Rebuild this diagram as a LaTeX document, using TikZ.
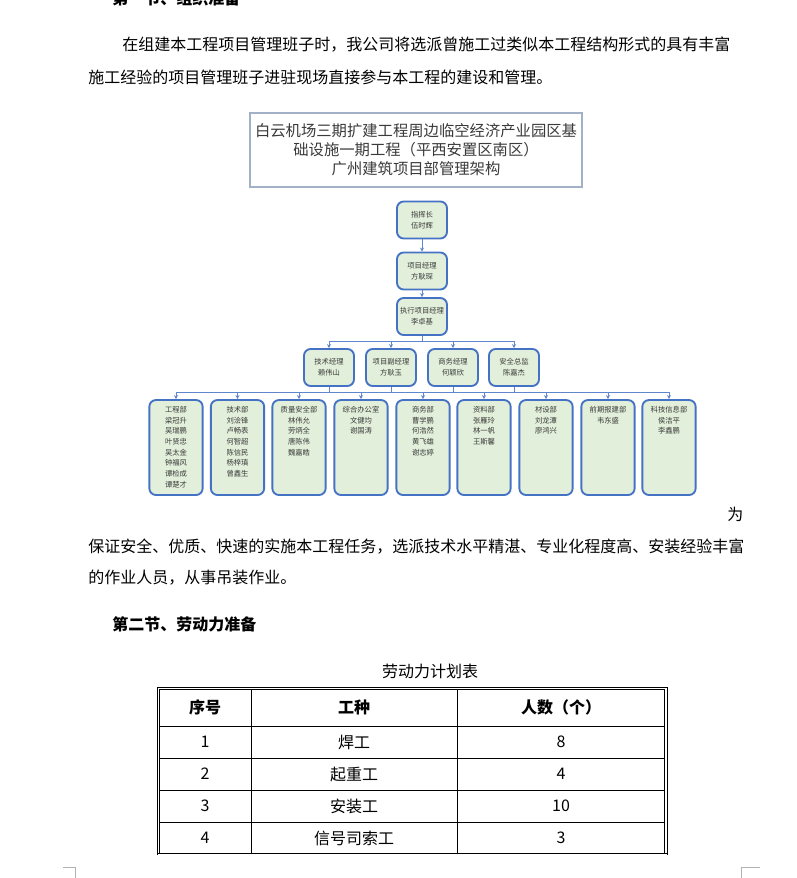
\documentclass[tikz,border=0pt]{standalone}
\usepackage{fontspec}
\setmainfont{Noto Sans CJK SC}
\usepackage{xcolor}
\usepackage{tikz}
\usetikzlibrary{shapes,arrows,arrows.meta,positioning,calc}

\definecolor{boxblue}{HTML}{4472C4}
\definecolor{boxgreen}{HTML}{E2EFDA}
\definecolor{titlegray}{HTML}{A3B1C6}
\definecolor{textgray}{HTML}{3A3A3A}

\newcommand{\deptnames}[1]{\parbox[c][62pt][t]{40pt}{\centering #1}}

\begin{document}
\begin{tikzpicture}[x=0.75pt, y=-0.75pt]
    \tikzstyle{orgbox} = [draw=boxblue, line width=1.4pt, fill=boxgreen, rectangle, rounded corners=5pt, minimum width=37.5pt, minimum height=27.75pt, inner sep=0pt, align=center, text=textgray, font=\fontsize{5.5}{8.2}\selectfont]
    \tikzstyle{deptbox} = [orgbox, minimum height=71.25pt, font=\fontsize{5.5}{8}\selectfont]
    \tikzstyle{titlebox} = [draw=titlegray, line width=0.8pt, rectangle, minimum width=249pt, minimum height=55.5pt, inner sep=0pt, align=center, text=textgray, font=\fontsize{11.5}{14.25}\selectfont]
    \tikzstyle{link} = [draw=boxblue!85, line width=0.6pt]
    \tikzstyle{arrowlink} = [link, -{Stealth[length=3pt,width=3pt]}]
    \tikzstyle{body} = [anchor=west, inner sep=0pt, font=\fontsize{12}{16}\selectfont]
    \tikzstyle{cell} = [inner sep=0pt, font=\fontsize{12}{16}\selectfont]

    \useasboundingbox (0,0) rectangle (796,878);
    \fill[white] (0,0) rectangle (796,878);

    % Text above the chart
    \node [body, font=\fontsize{12}{16}\selectfont\bfseries] (sec1) at (112,-2) {第一节、组织准备};
    \node [body] (para1a) at (122,45) {在组建本工程项目管理班子时，我公司将选派曾施工过类似本工程结构形式的具有丰富};
    \node [body] (para1b) at (88,77) {施工经验的项目管理班子进驻现场直接参与本工程的建设和管理。};

    % Chart title
    \node [titlebox] (charttitle) at (416,150) {白云机场三期扩建工程周边临空经济产业园区基\\础设施一期工程（平西安置区南区）\\广州建筑项目部管理架构};

    % Top of the chart
    \node [orgbox] (chief) at (422,220) {指挥长\\伍时辉};
    \node [orgbox] (pm) at (422,271) {项目经理\\方耿琛};
    \node [orgbox] (exec) at (422,316.5) {执行项目经理\\李卓基};

    % Managers
    \node [orgbox] (tech) at (329,367.5) {技术经理\\赖伟山};
    \node [orgbox] (deputy) at (391,367.5) {项目副经理\\方耿玉};
    \node [orgbox] (business) at (453,367.5) {商务经理\\何颖欣};
    \node [orgbox] (safety) at (514,367.5) {安全总监\\陈嘉杰};

    % Departments
    \node [deptbox] (eng) at (176,447.5) {\deptnames{工程部\\梁冠升\\吴瑞鹏\\叶贤忠\\吴太金\\钟福风\\谭检成\\谭楚才}};
    \node [deptbox] (techdept) at (237.5,447.5) {\deptnames{技术部\\刘浍锋\\卢畅表\\何智超\\陈信民\\杨梓瑱\\曾鑫生}};
    \node [deptbox] (quality) at (299,447.5) {\deptnames{质量安全部\\林伟允\\劳炳全\\唐陈伟\\魏嘉皓}};
    \node [deptbox] (office) at (361,447.5) {\deptnames{综合办公室\\文健均\\谢国涛}};
    \node [deptbox] (commerce) at (423,447.5) {\deptnames{商务部\\曹学鹏\\何浩然\\黄飞雄\\谢志婷}};
    \node [deptbox] (docs) at (484,447.5) {\deptnames{资料部\\张雁玲\\林一帆\\王斯馨}};
    \node [deptbox] (material) at (546,447.5) {\deptnames{材设部\\刘龙潭\\廖鸿兴}};
    \node [deptbox] (permit) at (608,447.5) {\deptnames{前期报建部\\韦东盛}};
    \node [deptbox] (info) at (669,447.5) {\deptnames{科技信息部\\侯洁平\\李鑫鹏}};

    \coordinate (bus1) at (422,341);
    \coordinate (bus2) at (422,392);

    % Paths
    \draw [arrowlink] (chief) -- (pm);
    \draw [arrowlink] (pm) -- (exec);
    \draw [link] (exec.south) -- (bus1);
    \draw [link] (bus1 -| tech) -- (bus1 -| safety);
    \draw [arrowlink] (bus1 -| tech) -- (tech.north);
    \draw [arrowlink] (bus1 -| deputy) -- (deputy.north);
    \draw [arrowlink] (bus1 -| business) -- (business.north);
    \draw [arrowlink] (bus1 -| safety) -- (safety.north);
    \draw [link] (tech.south) -- (tech.south |- bus2);
    \draw [link] (deputy.south) -- (deputy.south |- bus2);
    \draw [link] (business.south) -- (business.south |- bus2);
    \draw [link] (safety.south) -- (safety.south |- bus2);
    \draw [link] (bus2 -| eng) -- (bus2 -| info);
    \draw [arrowlink] (bus2 -| eng) -- (eng.north);
    \draw [arrowlink] (bus2 -| techdept) -- (techdept.north);
    \draw [arrowlink] (bus2 -| quality) -- (quality.north);
    \draw [arrowlink] (bus2 -| office) -- (office.north);
    \draw [arrowlink] (bus2 -| commerce) -- (commerce.north);
    \draw [arrowlink] (bus2 -| docs) -- (docs.north);
    \draw [arrowlink] (bus2 -| material) -- (material.north);
    \draw [arrowlink] (bus2 -| permit) -- (permit.north);
    \draw [arrowlink] (bus2 -| info) -- (info.north);

    % Text below the chart
    \node [body] (para2a) at (727,514) {为};
    \node [body] (para2b) at (88,547) {保证安全、优质、快速的实施本工程任务，选派技术水平精湛、专业化程度高、安装经验丰富};
    \node [body] (para2c) at (88,578) {的作业人员，从事吊装作业。};
    \node [body, font=\fontsize{12}{16}\selectfont\bfseries] (sec2) at (112,624) {第二节、劳动力准备};
    \node [cell] (tabcaption) at (430,671) {劳动力计划表};

    % Table
    \draw [line width=0.6pt] (157,855) -- (157,687) -- (667,687) -- (667,855);
    \draw [line width=0.6pt] (159.5,853.5) -- (159.5,689.5) -- (664.5,689.5) -- (664.5,853.5);
    \draw [line width=0.6pt] (157,853.5) -- (667,853.5);
    \draw [line width=0.6pt] (251,689.5) -- (251,853.5);
    \draw [line width=0.6pt] (457,689.5) -- (457,853.5);
    \draw [line width=0.6pt] (159.5,726) -- (664.5,726);
    \draw [line width=0.6pt] (159.5,758) -- (664.5,758);
    \draw [line width=0.6pt] (159.5,790) -- (664.5,790);
    \draw [line width=0.6pt] (159.5,822) -- (664.5,822);

    \node [cell, font=\fontsize{12}{16}\selectfont\bfseries] (hno) at (205,707) {序号};
    \node [cell, font=\fontsize{12}{16}\selectfont\bfseries] (htrade) at (354,707) {工种};
    \node [cell, font=\fontsize{12}{16}\selectfont\bfseries] (hcount) at (561,707) {人数（个）};
    \node [cell] (no1) at (205,742) {1};
    \node [cell] (trade1) at (354,742) {焊工};
    \node [cell] (count1) at (561,742) {8};
    \node [cell] (no2) at (205,774) {2};
    \node [cell] (trade2) at (354,774) {起重工};
    \node [cell] (count2) at (561,774) {4};
    \node [cell] (no3) at (205,806) {3};
    \node [cell] (trade3) at (354,806) {安装工};
    \node [cell] (count3) at (561,806) {10};
    \node [cell] (no4) at (205,838) {4};
    \node [cell] (trade4) at (354,838) {信号司索工};
    \node [cell] (count4) at (561,838) {3};

    % Page corner marks
    \draw [gray!60, line width=0.6pt] (63,867) -- (75,867) -- (75,878);
    \draw [gray!60, line width=0.6pt] (760,867) -- (741,867) -- (741,878);
\end{tikzpicture}
\end{document}
